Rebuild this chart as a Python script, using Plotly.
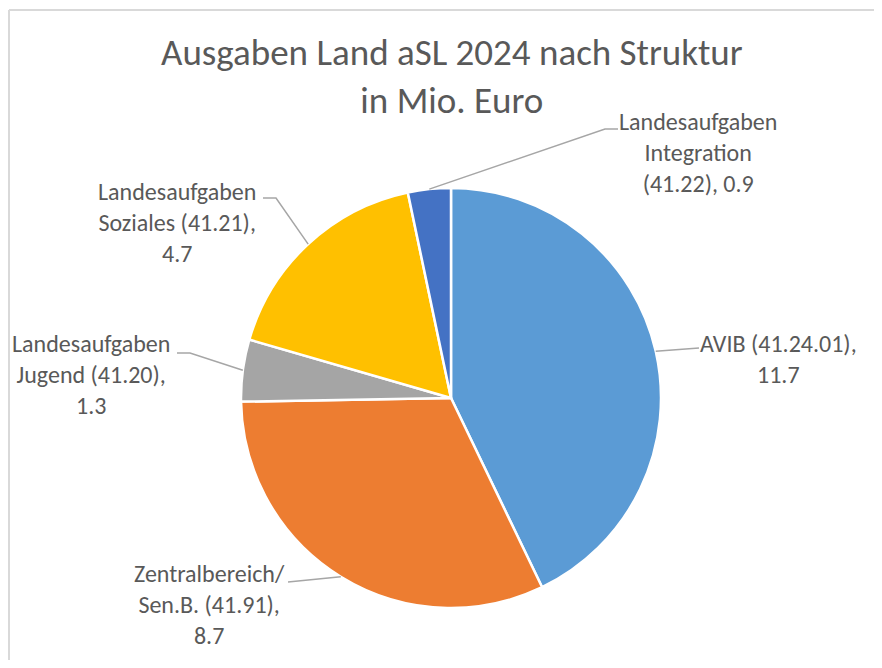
import math
import plotly.graph_objects as go

# ---- data ----
categories = ["AVIB (41.24.01)", "Zentralbereich/<br>Sen.B. (41.91)",
              "Landesaufgaben<br>Jugend (41.20)", "Landesaufgaben<br>Soziales (41.21)",
              "Landesaufgaben<br>Integration (41.22)"]
label_texts = ["AVIB (41.24.01),<br>11.7",
               "Zentralbereich/<br>Sen.B. (41.91),<br>8.7",
               "Landesaufgaben<br>Jugend (41.20),<br>1.3",
               "Landesaufgaben<br>Soziales (41.21),<br>4.7",
               "Landesaufgaben<br>Integration<br>(41.22), 0.9"]
values = [11.7, 8.7, 1.3, 4.7, 0.9]
colors = ["#5B9BD5", "#ED7D31", "#A5A5A5", "#FFC000", "#4472C4"]

# ---- layout constants ----
OFF = 8                              # page body margin
W, H = 882 - 2 * OFF, 668 - 2 * OFF  # keep page inside window (no scrollbars)
CX, CY, R = 451, 398, 210            # pie centre / radius in window px
FONT = "Carlito, Calibri, Lato, sans-serif"
TXT = "#595959"
LINE = "#A6A6A6"

# label centres (window px) and leader-line points near the text
label_pos = [(778, 359), (209, 604), (91, 374), (177, 222), (698, 152)]
leader_pts = [[(699, 348)],
              [(288, 582)],
              [(177, 353), (190, 353)],
              [(263, 198), (276, 198)],
              [(618, 129), (605, 129)]]


def px(x):
    return (x - OFF) / W


def py(y):
    return 1 - (y - OFF) / H


fig = go.Figure(go.Pie(
    labels=categories, values=values, sort=False, direction="clockwise",
    rotation=0, textinfo="none", hoverinfo="label+value",
    marker=dict(colors=colors, line=dict(color="white", width=2.5)),
    domain=dict(x=[px(CX - R), px(CX + R)], y=[py(CY + R), py(CY - R)]),
    showlegend=False,
))

total = sum(values)
cum = 0
annotations = []
shapes = []
for v, txt, (lx, ly), pts in zip(values, label_texts, label_pos, leader_pts):
    mid = (cum + v / 2) / total * 2 * math.pi
    cum += v
    ex = CX + R * math.sin(mid)
    ey = CY - R * math.cos(mid)
    allpts = pts + [(ex, ey)]
    path = "M " + " L ".join(f"{px(x):.5f},{py(y):.5f}" for x, y in allpts)
    shapes.append(dict(type="path", xref="paper", yref="paper", path=path,
                       line=dict(color=LINE, width=1.5)))
    annotations.append(dict(x=px(lx), y=py(ly), xref="paper", yref="paper",
                            text=txt, showarrow=False, align="center",
                            xanchor="center", yanchor="middle",
                            font=dict(family=FONT, size=24, color=TXT)))

annotations.append(dict(x=px(452), y=py(77), xref="paper", yref="paper",
                        text="Ausgaben Land aSL 2024 nach Struktur<br>in Mio. Euro",
                        showarrow=False, align="center", xanchor="center",
                        yanchor="middle",
                        font=dict(family=FONT, size=37, color=TXT)))

# chart border: only left and top edges are visible in the window
shapes.append(dict(type="line", xref="paper", yref="paper",
                   x0=px(9), x1=px(9), y0=py(10), y1=0,
                   line=dict(color="#D9D9D9", width=2)))
shapes.append(dict(type="line", xref="paper", yref="paper",
                   x0=px(9), x1=1, y0=py(10), y1=py(10),
                   line=dict(color="#D9D9D9", width=2)))

fig.update_layout(width=W, height=H, margin=dict(l=0, r=0, t=0, b=0),
                  paper_bgcolor="white", plot_bgcolor="white",
                  annotations=annotations, shapes=shapes)

fig.write_html("out.html")
